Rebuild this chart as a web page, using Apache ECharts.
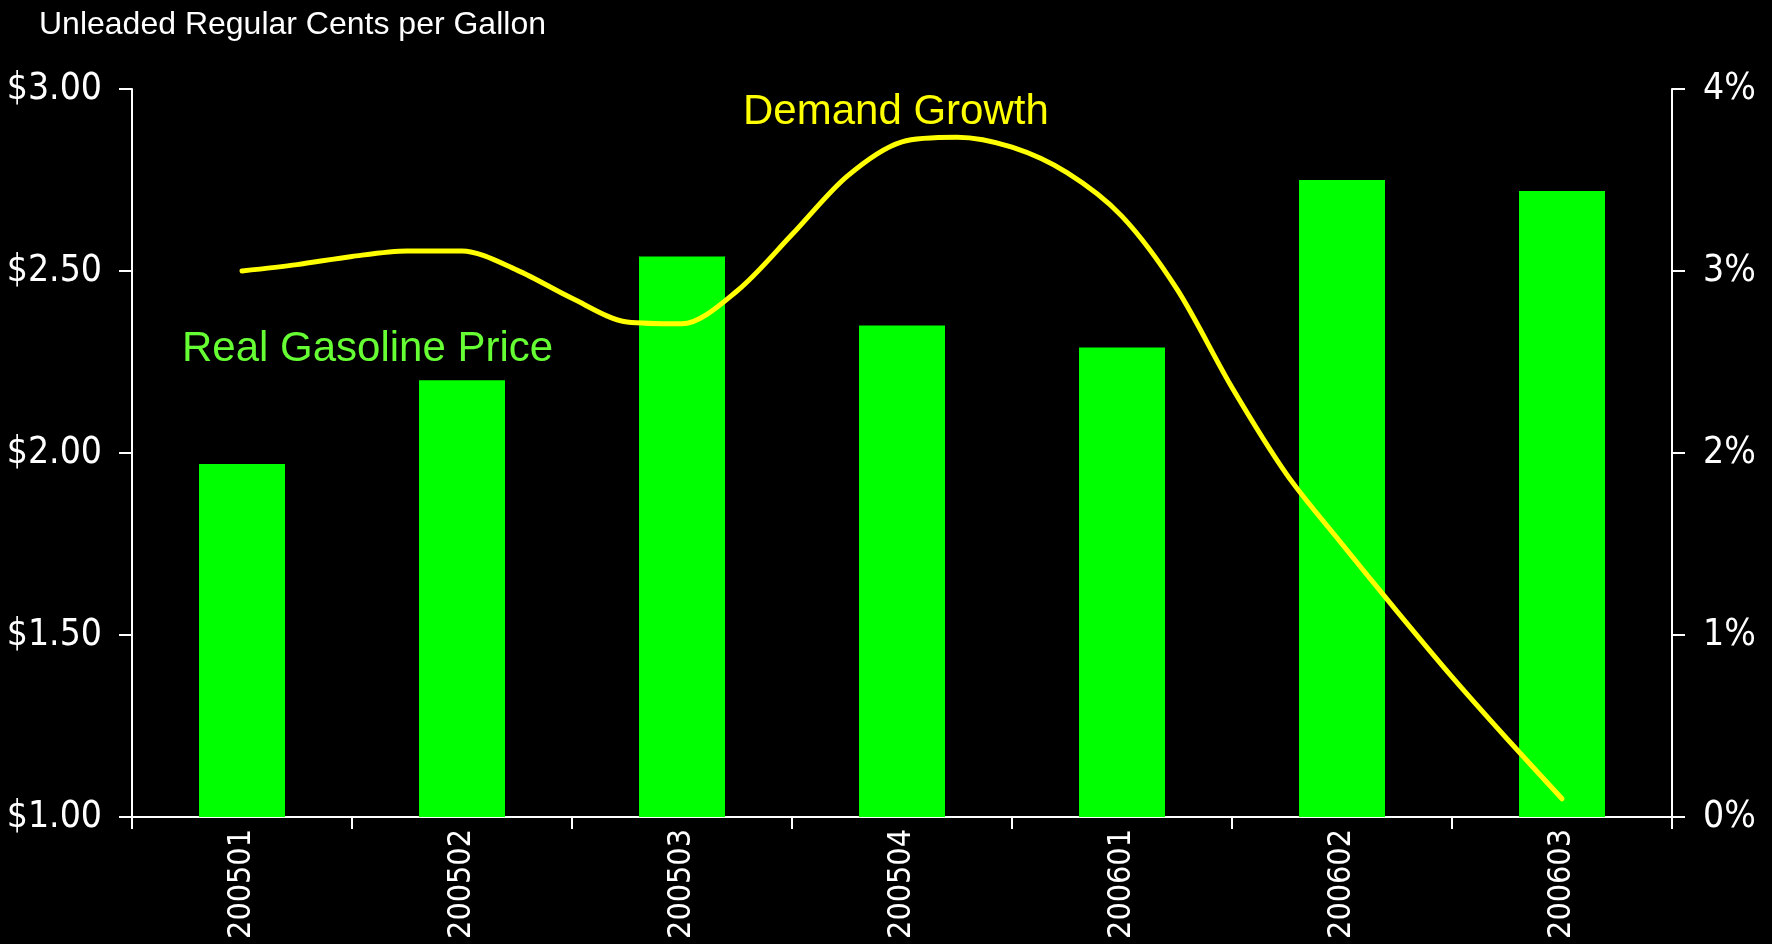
<!DOCTYPE html>
<html>
<head>
    <meta charset="utf-8"/>
    <title>Real Gasoline Price vs Demand Growth</title>
    <style>
        html, body { margin: 0; padding: 0; background: #000; }
        #chart { width: 1772px; height: 944px; }
    </style>
</head>
<body>
<div id="chart"></div>
<script src="https://cdn.jsdelivr.net/npm/echarts@6/dist/echarts.min.js"></script>
<script>
    // 分类（季度）
    var categories = ['200501', '200502', '200503', '200504', '200601', '200602', '200603'];
    // 实际汽油价格（美元/加仑）
    var gasPrice = [1.97, 2.20, 2.54, 2.35, 2.29, 2.75, 2.72];
    // 需求增长曲线：位置（按分类序号）和百分比
    var demandPos = [0, 0.25, 0.5, 0.75, 1, 1.25, 1.5, 1.75, 2, 2.25, 2.5, 2.75, 3, 3.25, 3.5, 3.75, 4, 4.25, 4.5, 4.75, 5, 5.25, 5.5, 5.75, 6];
    var demandGrowth = [3.00, 3.035, 3.08, 3.11, 3.11, 3.005, 2.85, 2.72, 2.71, 2.89, 3.20, 3.52, 3.71, 3.735, 3.68, 3.54, 3.30, 2.90, 2.36, 1.88, 1.50, 1.13, 0.77, 0.43, 0.10];
    // 刻度
    var priceTicks = {min: 1, max: 3, interval: 0.5};
    var pctTicks = {min: 0, max: 4, interval: 1};

    var narrow = '"Liberation Sans Narrow", "DejaVu Sans Condensed", "Liberation Sans", sans-serif';
    var sans = '"Liberation Sans", Arial, sans-serif';

    var demandData = demandPos.map(function (p, i) { return [p, demandGrowth[i]]; });

    var chart = echarts.init(document.getElementById('chart'));
    var axisLine = {show: true, onZero: false, lineStyle: {color: '#fff', width: 2}};
    var option = {
        backgroundColor: '#000',
        animation: false,
        title: [{
            text: 'Unleaded Regular Cents per Gallon',
            left: 34, top: 4,
            textStyle: {color: '#fff', fontSize: 32, fontWeight: 'normal', fontFamily: sans}
        }, {
            text: 'Demand Growth',
            left: 738, top: 86,
            textStyle: {color: '#ffff00', fontSize: 42, fontWeight: 'normal', fontFamily: sans}
        }, {
            text: 'Real Gasoline Price',
            left: 177, top: 323,
            textStyle: {color: '#66ff33', fontSize: 42, fontWeight: 'normal', fontFamily: sans}
        }],
        grid: {left: 132, right: 100, top: 89, bottom: 127, containLabel: false, outerBoundsMode: 'none'},
        xAxis: [{
            type: 'category',
            data: categories,
            axisLine: axisLine,
            axisTick: {show: true, length: 12, lineStyle: {color: '#fff', width: 2}},
            axisLabel: {color: '#fff', fontSize: 32, fontFamily: narrow, rotate: 90, margin: 12}
        }, {
            type: 'value',
            min: -0.5, max: 6.5,
            show: false
        }],
        yAxis: [{
            type: 'value',
            min: priceTicks.min, max: priceTicks.max, interval: priceTicks.interval,
            splitLine: {show: false},
            axisLine: axisLine,
            axisTick: {show: true, length: 13, lineStyle: {color: '#fff', width: 2}},
            axisLabel: {
                color: '#fff', fontSize: 37, fontFamily: narrow, margin: 30,
                formatter: function (v) { return '$' + v.toFixed(2); }
            }
        }, {
            type: 'value',
            position: 'right',
            min: pctTicks.min, max: pctTicks.max, interval: pctTicks.interval,
            splitLine: {show: false},
            axisLine: axisLine,
            axisTick: {show: true, length: 13, lineStyle: {color: '#fff', width: 2}},
            axisLabel: {color: '#fff', fontSize: 37, fontFamily: narrow, margin: 31, formatter: '{value}%'}
        }],
        series: [{
            name: 'Real Gasoline Price',
            type: 'bar',
            data: gasPrice,
            barWidth: 86,
            itemStyle: {color: '#00ff00'}
        }, {
            name: 'Demand Growth',
            type: 'line',
            xAxisIndex: 1,
            yAxisIndex: 1,
            data: demandData,
            smooth: 0.3,
            symbol: 'none',
            lineStyle: {color: '#ffff00', width: 5, cap: 'round'}
        }]
    };
    chart.setOption(option);
</script>
</body>
</html>
